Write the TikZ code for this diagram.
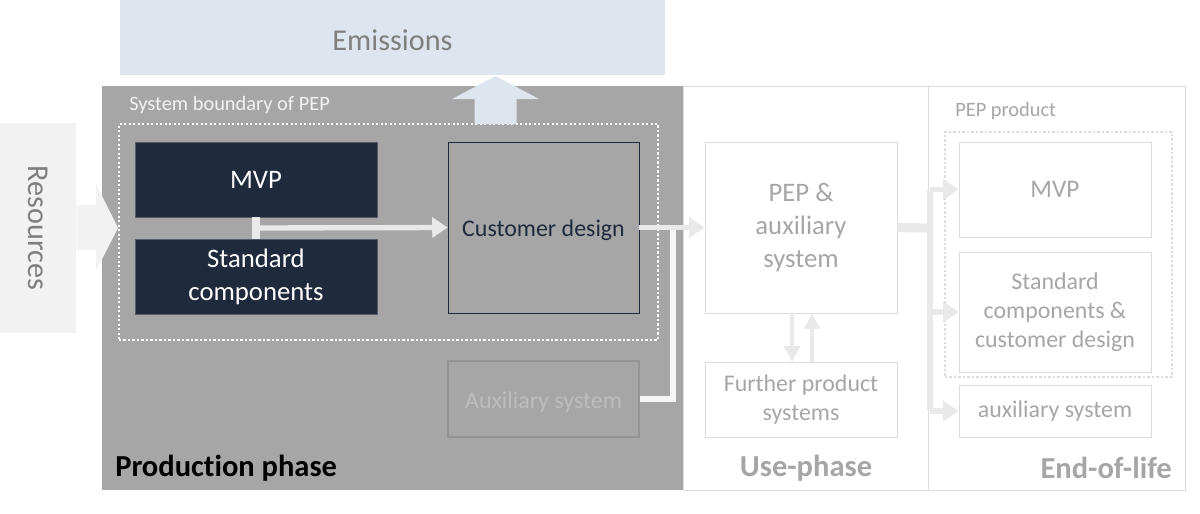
\documentclass[tikz,border=0pt]{standalone}
\usepackage{fontspec}
\setmainfont{Carlito}[Ligatures=NoCommon]
\usetikzlibrary{arrows.meta,positioning,calc}
\definecolor{navy}{HTML}{1F2A3C}
\definecolor{prodgray}{HTML}{A6A6A6}
\definecolor{emisblue}{HTML}{DFE5EF}
\definecolor{resgray}{HTML}{F2F2F2}
\definecolor{flowgray}{HTML}{E9E9E9}
\definecolor{linegray}{HTML}{DCDCDC}
\definecolor{textgray}{HTML}{A6A6A6}
\definecolor{labelgray}{HTML}{7F7F7F}
\newcommand\droptext[1]{\raisebox{-2.2pt}[\height][\depth]{#1}}
\tikzset{
 phase/.style={minimum height=10.1cm, inner sep=0pt},
 darkbox/.style={fill=navy, draw=navy!60!prodgray, text=white, minimum width=6.05cm,
   minimum height=1.875cm, inner sep=0pt, align=center, font=\fontsize{19}{23.5}\selectfont},
 palebox/.style={draw=linegray, fill=white, text=textgray, minimum width=4.8cm,
   inner sep=0pt, align=center, font=\fontsize{17}{20.5}\selectfont},
 boundary/.style={line width=1.6pt, dash pattern=on 1.6pt off 1.6pt, inner sep=0pt},
 flow/.style={draw=flowgray, line width=3.8pt, -{Triangle[length=11pt,width=14pt]}},
 thinflow/.style={draw=flowgray, line width=3.4pt, -{Triangle[length=11pt,width=11pt]}},
 phasetitle/.style={font=\fontsize{21.7}{26}\selectfont\bfseries, inner sep=0pt},
 smalltitle/.style={font=\fontsize{14.5}{17}\selectfont, inner sep=0pt, anchor=west}
}
\begin{document}
\begin{tikzpicture}[x=0.025cm,y=-0.025cm]
 \useasboundingbox (0,0) rectangle (1200,513);
 % emissions and resources
 \node[fill=emisblue, minimum width=13.625cm, minimum height=1.875cm, inner sep=0pt,
   text=labelgray, font=\fontsize{21.5}{26}\selectfont] (emis) at (392.5,37.5) {\droptext{Emissions}};
 \node[fill=resgray, rotate=-90, minimum width=5.25cm, minimum height=1.9cm, inner sep=0pt,
   text=labelgray, font=\fontsize{21.5}{26}\selectfont] (res) at (38,228) {Resources};
 % the three phases
 \node[phase, fill=prodgray, minimum width=14.525cm] (prod) at (392.5,288) {};
 \node[phase, draw=linegray, fill=white, minimum width=6.125cm] (use) at (805.5,288) {};
 \node[phase, draw=linegray, fill=white, minimum width=6.425cm] (eol) at (1056.5,288) {};
 \fill[resgray] (res.north |- 0,205) -- (96,205) -- (96,184) -- (118,228) -- (96,271)
   -- (96,250) -- (res.north |- 0,250) -- cycle;
 \node[phasetitle, anchor=west] (prodlbl) at (115,468) {Production phase};
 \node[phasetitle, text=textgray] (uselbl) at (806,468) {Use-phase};
 \node[phasetitle, text=textgray, anchor=east] (eollbl) at (1172,468) {End-of-life};
 % production phase
 \node[boundary, draw=white, minimum width=13.475cm, minimum height=5.4cm] (sysb) at (388.5,232) {};
 \node[smalltitle, text=resgray] (sysblbl) at (129,105) {System boundary of PEP};
 \fill[emisblue] (474.5,124) -- (474.5,99) -- (452,99) -- (495.5,76) -- (539,99)
   -- (516.5,99) -- (516.5,124) -- cycle;
 \node[darkbox] (mvp) at (256,179.5) {MVP};
 \node[darkbox] (std) at (256,276.5) {Standard\\components};
 \node[draw=navy, text=navy, minimum width=4.775cm, minimum height=4.275cm, inner sep=0pt,
   font=\fontsize{17}{20.5}\selectfont] (cust) at (543.5,227.5) {\droptext{Customer design}};
 \node[draw=black!42, line width=0.9pt, text=black!26, minimum width=4.775cm, minimum height=1.9cm,
   inner sep=0pt, font=\fontsize{17}{20.5}\selectfont] (aux) at (543.5,399) {\droptext{Auxiliary system}};
 \coordinate (tee) at ($(mvp.south)!.5!(std.north)$);
 \draw[draw=flowgray, line width=5pt] (mvp.south) -- (std.north);
 \draw[flow] (tee) -- (cust.west);
 % use phase
 \node[palebox, minimum height=4.275cm, font=\fontsize{19}{23.5}\selectfont] (pep) at (801,227.5)
   {PEP \&\\auxiliary\\system};
 \node[palebox, minimum height=1.875cm] (further) at (801,399.5) {Further product\\systems};
 \coordinate (merge) at (673,228);
 \draw[draw=white!96!black, line width=4.3pt] (aux.east) -| (merge);
 \draw[flow] (cust.east) -- (pep.west);
 \draw[thinflow] ([xshift=-0.225cm]pep.south) -- ([xshift=-0.225cm]further.north);
 \draw[thinflow] ([xshift=0.275cm]further.north) -- ([xshift=0.275cm]pep.south);
 % end of life
 \node[boundary, draw=linegray, minimum width=5.675cm, minimum height=6.125cm] (pepprod) at (1058.5,254.5) {};
 \node[smalltitle, text=textgray] (pepprodlbl) at (955,111) {PEP product};
 \node[palebox, minimum height=2.375cm, font=\fontsize{18}{22}\selectfont] (emvp) at (1055,189.5) {MVP};
 \node[palebox, minimum height=3cm] (estd) at (1055,312) {Standard\\components \&\\customer design};
 \node[palebox, minimum height=1.3cm] (eaux) at (1055,411) {auxiliary system};
 \coordinate (split) at (930,228);
 \draw[draw=flowgray, line width=6.5pt] (pep.east) -- (split);
 \draw[draw=flowgray, line width=3.6pt] (emvp.west -| split) -- (eaux.west -| split);
 \foreach \b in {emvp,estd,eaux}
  \draw[flow] (\b.west -| split) -- (\b.west);
\end{tikzpicture}
\end{document}
